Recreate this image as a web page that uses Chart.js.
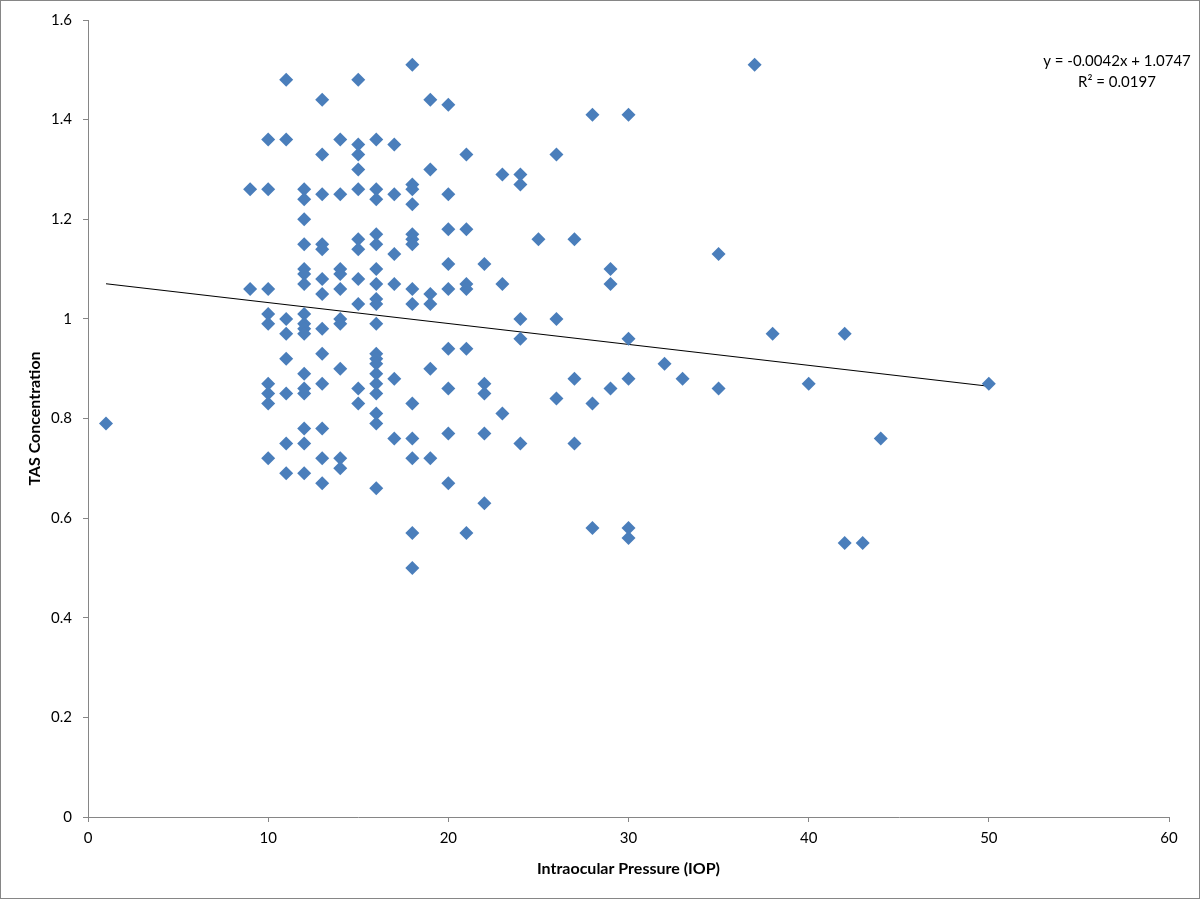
<!DOCTYPE html>
<html>
<head>
<meta charset="utf-8">
<script src="https://cdn.jsdelivr.net/npm/chart.js@4.4.1/dist/chart.umd.min.js"></script>
<style>
    html, body { margin: 0; padding: 0; background: #ffffff; }
    #chartTas { display: block; }
</style>
</head>
<body>
<canvas id="chartTas" width="1200" height="899"></canvas>
<script>
// Datos: TAS vs presion intraocular
const iopLevels = [1, 9, 10, 11, 12, 13, 14, 15, 16, 17, 18, 19, 20, 21, 22, 23, 24, 25, 26, 27, 28, 29, 30, 32, 33, 35, 37, 38, 40, 42, 43, 44, 50];
const tasAtLevel = [
    [0.79],
    [1.26, 1.06],
    [1.36, 1.26, 1.06, 1.01, 0.99, 0.87, 0.85, 0.83, 0.72],
    [1.48, 1.36, 1.00, 0.97, 0.92, 0.85, 0.75, 0.69],
    [1.26, 1.24, 1.20, 1.15, 1.10, 1.09, 1.07, 1.01, 0.99, 0.98, 0.97, 0.89, 0.86, 0.85, 0.78, 0.75, 0.69],
    [1.44, 1.33, 1.25, 1.15, 1.14, 1.08, 1.05, 0.98, 0.93, 0.87, 0.78, 0.72, 0.67],
    [1.36, 1.25, 1.10, 1.09, 1.06, 1.00, 0.99, 0.90, 0.72, 0.70],
    [1.48, 1.35, 1.33, 1.30, 1.26, 1.16, 1.14, 1.08, 1.03, 0.86, 0.83],
    [1.36, 1.26, 1.24, 1.17, 1.15, 1.10, 1.07, 1.04, 1.03, 0.99, 0.93, 0.92, 0.91, 0.89, 0.87, 0.85, 0.81, 0.79, 0.66],
    [1.35, 1.25, 1.13, 1.07, 0.88, 0.76],
    [1.51, 1.27, 1.26, 1.23, 1.17, 1.16, 1.15, 1.06, 1.03, 0.83, 0.76, 0.72, 0.57, 0.50],
    [1.44, 1.30, 1.05, 1.03, 0.90, 0.72],
    [1.43, 1.25, 1.18, 1.11, 1.06, 0.94, 0.86, 0.77, 0.67],
    [1.33, 1.18, 1.07, 1.06, 0.94, 0.57],
    [1.11, 0.87, 0.85, 0.77, 0.63],
    [1.29, 1.07, 0.81],
    [1.29, 1.27, 1.00, 0.96, 0.75],
    [1.16],
    [1.33, 1.00, 0.84],
    [1.16, 0.88, 0.75],
    [1.41, 0.83, 0.58],
    [1.10, 1.07, 0.86],
    [1.41, 0.96, 0.88, 0.58, 0.56],
    [0.91],
    [0.88],
    [1.13, 0.86],
    [1.51],
    [0.97],
    [0.87],
    [0.97, 0.55],
    [0.55],
    [0.76],
    [0.87]
];

// Linea de tendencia (Excel)
const trendSlope = -0.0042;
const trendIntercept = 1.0747;
const trendRange = [1, 50];
const trendLabels = ['y = -0.0042x + 1.0747', 'R\u00B2 = 0.0197'];

// Ejes
const xTicks = [0, 10, 20, 30, 40, 50, 60];
const yTicks = [0, 0.2, 0.4, 0.6, 0.8, 1, 1.2, 1.4, 1.6];
const xTitle = 'Intraocular Pressure (IOP)';
const yTitle = 'TAS Concentration';

const FONT = "Lato, Calibri, 'Open Sans', sans-serif";
const GRIS = '#868686';

// Puntos
const puntos = [];
iopLevels.forEach((iop, i) => {
    tasAtLevel[i].forEach(tas => puntos.push({ x: iop, y: tas }));
});

const tendencia = trendRange.map(x => ({ x: x, y: trendSlope * x + trendIntercept }));

// Texto de la ecuacion y borde exterior
const plugExtras = {
    id: 'extras',
    afterDraw(chart) {
        const ctx = chart.ctx;
        ctx.save();
        ctx.strokeStyle = GRIS;
        ctx.lineWidth = 1;
        ctx.strokeRect(0.5, 0.5, chart.width - 1, chart.height - 1);

        ctx.fillStyle = '#000000';
        ctx.font = '15px ' + FONT;
        ctx.textAlign = 'center';
        ctx.textBaseline = 'middle';
        ctx.fillText(trendLabels[0], 1117, 61);
        ctx.fillText(trendLabels[1], 1117, 82);
        ctx.restore();
    }
};

new Chart(document.getElementById('chartTas'), {
    type: 'scatter',
    data: {
        datasets: [
            {
                type: 'line',
                data: tendencia,
                borderColor: '#000000',
                borderWidth: 1.2,
                pointRadius: 0,
                fill: false,
                order: 2
            },
            {
                data: puntos,
                pointStyle: 'rectRot',
                pointRadius: 7,
                pointHoverRadius: 7,
                backgroundColor: '#4a7ebb',
                borderColor: '#4a7ebb',
                borderWidth: 0,
                order: 1
            }
        ]
    },
    plugins: [plugExtras],
    options: {
        responsive: false,
        animation: false,
        events: [],
        layout: {
            padding: { left: 0, right: 31, top: 20, bottom: 0 }
        },
        plugins: {
            legend: { display: false },
            tooltip: { enabled: false }
        },
        scales: {
            x: {
                type: 'linear',
                min: 0,
                max: 60,
                afterBuildTicks: scale => { scale.ticks = xTicks.map(v => ({ value: v })); },
                afterFit: scale => { scale.height = 82; },
                grid: {
                    drawOnChartArea: false,
                    drawTicks: true,
                    tickLength: 5,
                    color: GRIS
                },
                border: { display: true, color: GRIS, width: 1 },
                ticks: {
                    color: '#000000',
                    padding: 7,
                    font: { family: FONT, size: 15 }
                },
                title: {
                    display: true,
                    text: xTitle,
                    color: '#000000',
                    padding: { top: 0, bottom: 21 },
                    font: { family: FONT, size: 16, weight: 'bold' }
                }
            },
            y: {
                type: 'linear',
                min: 0,
                max: 1.6,
                afterBuildTicks: scale => { scale.ticks = yTicks.map(v => ({ value: v })); },
                afterFit: scale => { scale.width = 88; },
                grid: {
                    drawOnChartArea: false,
                    drawTicks: true,
                    tickLength: 5,
                    color: GRIS
                },
                border: { display: true, color: GRIS, width: 1 },
                ticks: {
                    color: '#000000',
                    padding: 11,
                    font: { family: FONT, size: 15 },
                    callback: v => String(Math.round(v * 10) / 10)
                },
                title: {
                    display: true,
                    text: yTitle,
                    color: '#000000',
                    padding: { top: 25, bottom: 0 },
                    font: { family: FONT, size: 16, weight: 'bold' }
                }
            }
        }
    }
});
</script>
</body>
</html>
